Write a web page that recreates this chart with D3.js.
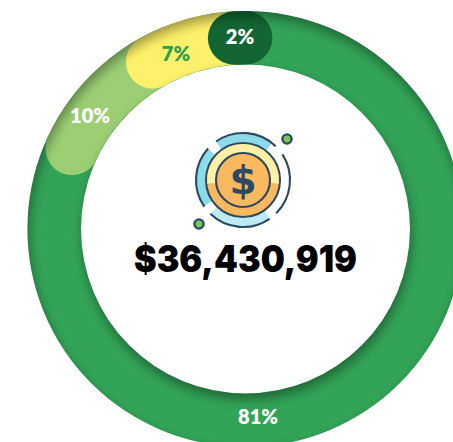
<!DOCTYPE html>
<html><head><meta charset="utf-8">
<script src="https://cdnjs.cloudflare.com/ajax/libs/d3/7.8.5/d3.min.js"></script>
<style>html,body{margin:0;background:#fff;overflow:hidden}svg{display:block}</style></head>
<body><svg id="c" width="453" height="442"></svg>
<script>
const labels = ["81%","10%","7%","2%"];
const values = [81,10,7,2];
const colors = ["#32a357","#9ccf74","#fdf06a","#136634"];
const labelColors = ["#fff","#fff","#2f9e50","#fff"];
const total = "$36,430,919";

const svg = d3.select("#c");
const cx=245.5, cy=229, R=218, r=164.5, capDeg=8.1, rot=3.4;
const rad=d=>d*Math.PI/180;
const angle=d3.scaleLinear().domain([0,100]).range([rot,rot+360]);
const defs=svg.append("defs");
defs.append("filter").attr("id","b").attr("x","-30%").attr("y","-30%").attr("width","160%").attr("height","160%")
  .append("feGaussianBlur").attr("stdDeviation",5.5);
const ringArc=d3.arc().innerRadius(r).outerRadius(R);
defs.append("clipPath").attr("id","ring").append("path")
  .attr("transform",`translate(${cx},${cy})`)
  .attr("d",ringArc({startAngle:0,endAngle:2*Math.PI}));

const g=svg.append("g").attr("transform",`translate(${cx},${cy})`);
let acc=0;
const segs=values.map((v,i)=>{const s={v,i,a0:angle(acc),a1:angle(acc+v)};acc+=v;return s;});
const arc=d3.arc().innerRadius(r).outerRadius(R).cornerRadius((R-r)/2);
g.selectAll("path.seg").data(segs).join("path").attr("class","seg")
  .attr("fill",d=>colors[d.i])
  .attr("d",d=>{
    if(d.i===0) return ringArc({startAngle:0,endAngle:2*Math.PI});
    return arc({startAngle:rad(d.a0-capDeg+(d.i===3?0.6:0)),endAngle:rad(d.a1+(d.i===3?capDeg-3.4:capDeg))});
  });

// inner shadow of the ring, cast mostly downwards
const sh=svg.append("g").attr("clip-path","url(#ring)");
const m=(o,rr)=>`M${o.x-rr},${o.y}a${rr},${rr} 0 1,0 ${2*rr},0a${rr},${rr} 0 1,0 ${-2*rr},0Z`;
const so={x:cx+1.5,y:cy+6};
sh.append("path")
  .attr("d",`M-100,-100H600V600H-100Z`+m(so,R)+m(so,r))
  .attr("fill-rule","evenodd").attr("fill","#000").attr("opacity",.36).attr("filter","url(#b)");

// percentage labels
const labelPos=[[258,417],[90,116],[176,54],[240,37]];
svg.selectAll("text.lab").data(labels).join("text").attr("class","lab")
  .attr("x",(d,i)=>labelPos[i][0]).attr("y",(d,i)=>labelPos[i][1])
  .attr("dy","0.36em").attr("text-anchor","middle")
  .attr("font-family","Lato").attr("font-weight",800).attr("font-size",20)
  .attr("fill",(d,i)=>labelColors[i]).text(d=>d);

// total
svg.append("text").attr("x",245.5).attr("y",272).attr("text-anchor","middle")
  .attr("font-family","Inter").attr("font-weight",900).attr("font-size",37)
  .attr("textLength",223).attr("lengthAdjust","spacingAndGlyphs")
  .attr("fill","#000").text(total);

// coin icon
const ink="#2d4a63", ix=243, iy=180, sw=2.1;
const ic=svg.append("g").attr("transform",`translate(${ix},${iy})`);
const band=d3.arc().innerRadius(36).outerRadius(47);
const line=d3.arc().innerRadius(47).outerRadius(47);
ic.append("path").attr("fill","#8bdbe9").attr("d",band({startAngle:rad(-35),endAngle:rad(38)}));
ic.append("path").attr("fill","#8bdbe9").attr("d",band({startAngle:rad(-124),endAngle:rad(-48)}));
ic.append("path").attr("fill","#bdebf3").attr("d",band({startAngle:rad(145),endAngle:rad(224)}));
[[-35,44],[-124.6,-48],[145.6,224],[57,135]].forEach(a=>{
  ic.append("path").attr("fill","none").attr("stroke",ink).attr("stroke-width",sw).attr("stroke-linecap","round")
    .attr("d",line({startAngle:rad(a[0]),endAngle:rad(a[1])}));
});
ic.append("circle").attr("r",37).attr("fill","#fbb95f").attr("stroke",ink).attr("stroke-width",sw);
ic.append("path").attr("fill","#fff0a8").attr("d",d3.arc().innerRadius(27).outerRadius(36)({startAngle:rad(-96),endAngle:rad(96)}));
ic.append("circle").attr("r",27).attr("fill","#fbb95f").attr("stroke",ink).attr("stroke-width",sw);
ic.append("text").attr("y",14).attr("text-anchor","middle").attr("font-family","DejaVu Sans").attr("font-weight",700)
  .attr("font-size",39).attr("fill",ink).text("$");
[[44,-41],[-44,44]].forEach(p=>{
  ic.append("circle").attr("cx",p[0]).attr("cy",p[1]).attr("r",4.6).attr("fill","#7ac55a").attr("stroke",ink).attr("stroke-width",2.4);
});
</script></body></html>
